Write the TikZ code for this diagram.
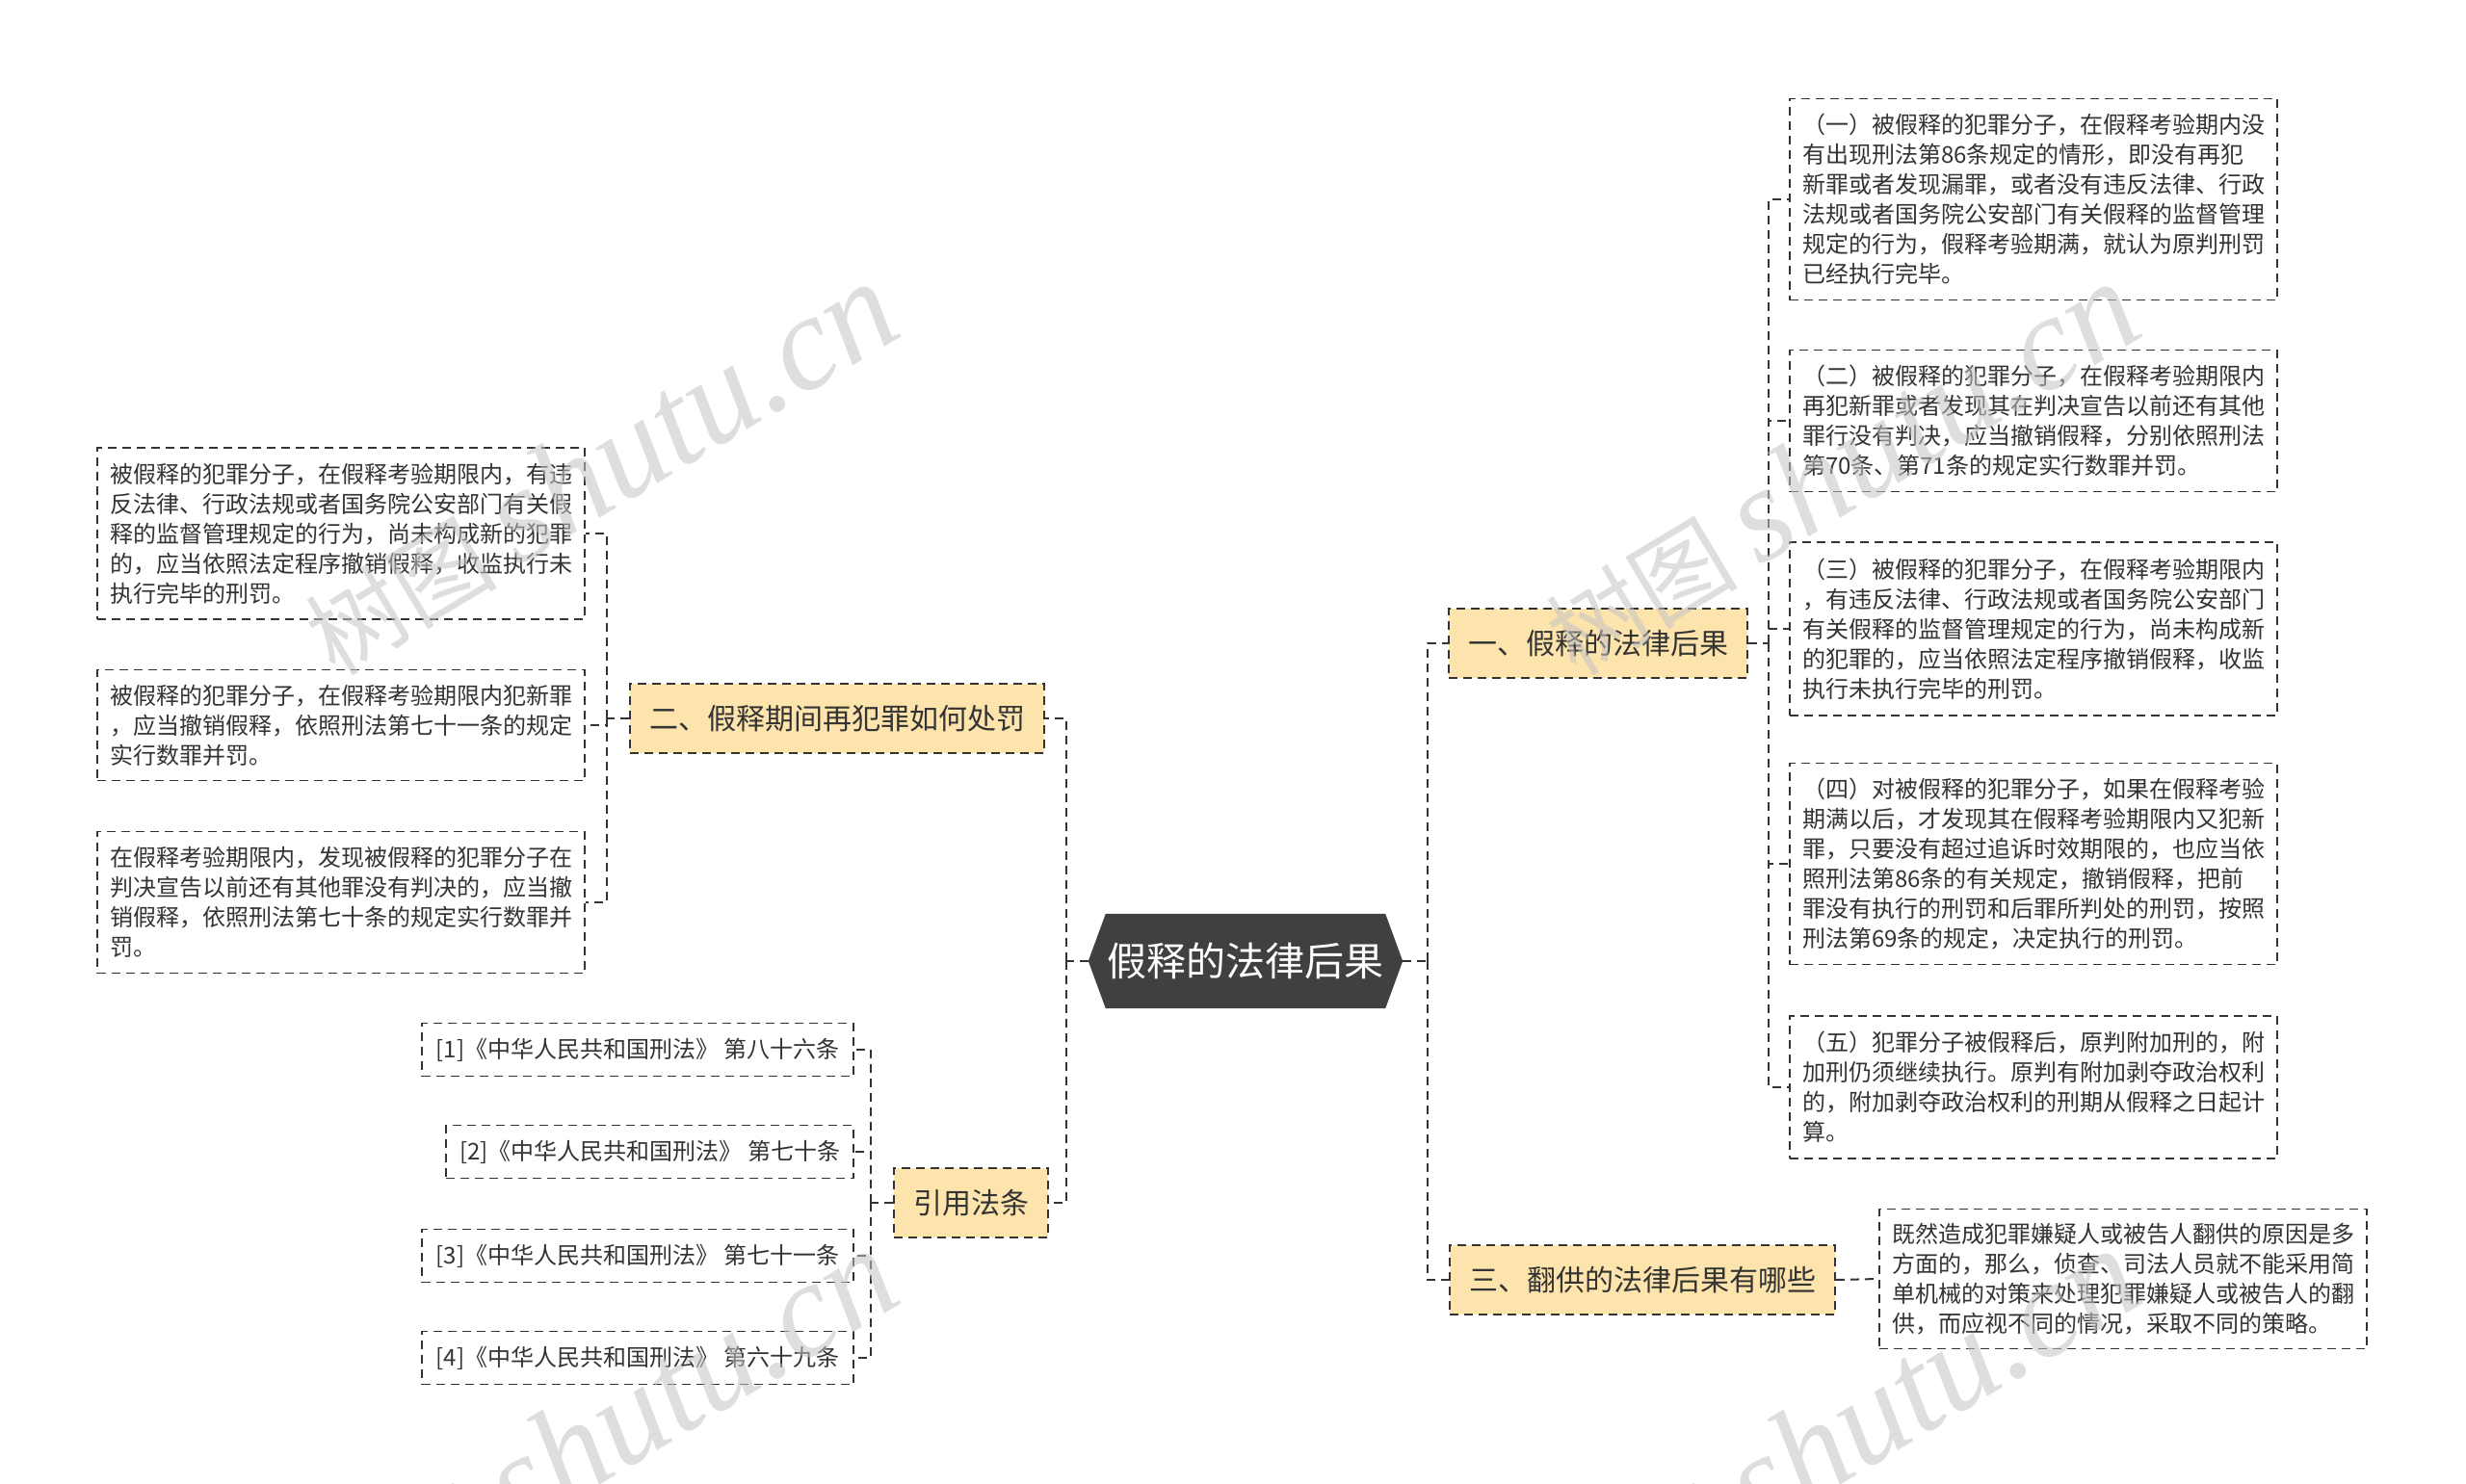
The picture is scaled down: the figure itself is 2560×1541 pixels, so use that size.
\documentclass[tikz,border=0pt]{standalone}
\usepackage{fontspec}
\setmainfont{Noto Sans CJK SC}
\newfontfamily\wmlatin{Liberation Serif}
\usetikzlibrary{positioning}
\pgfdeclarelayer{background}
\pgfsetlayers{background,main}

\definecolor{linegray}{HTML}{333333}
\definecolor{rootgray}{HTML}{404040}
\definecolor{branchfill}{HTML}{FCE4AC}
\definecolor{wmgray}{HTML}{C4C4C4}

\tikzset{
  link/.style={draw=linegray, line width=2pt, dash pattern=on 9pt off 6pt},
  box/.style={draw=linegray, line width=1.6pt, dash pattern=on 9pt off 6pt, text=linegray},
  leaf/.style={box, fill=white, align=left, text width=480pt, inner xsep=13pt,
    font=\fontsize{24}{31}\selectfont},
  refbox/.style={box, fill=white, minimum height=55pt, inner xsep=12pt,
    font=\fontsize{24}{31}\selectfont},
  branch/.style={box, fill=branchfill, minimum height=72pt, inner xsep=20pt,
    font=\fontsize{30}{36}\selectfont},
  rootbox/.style={minimum width=326pt, minimum height=98pt, text=white,
    font=\fontsize{41}{48}\selectfont},
  watermark/.style={text=wmgray, text opacity=0.55, rotate=31, anchor=base west},
}
\newcommand{\wmtext}{\fontsize{100}{100}\selectfont 树图 {\wmlatin\itshape\fontsize{140}{140}\selectfont shutu.cn}}

\begin{document}
\begin{tikzpicture}[x=1pt,y=-1pt]
  \useasboundingbox (0,0) rectangle (2560,1541);
  \begin{pgfonlayer}{background}
    \fill[white] (0,0) rectangle (2560,1541);
  \end{pgfonlayer}

  % centre
  \node[rootbox] (root) at (1293,998) {假释的法律后果};
  \begin{pgfonlayer}{background}
    \fill[rootgray] (root.west) -- ([xshift=18pt]root.north west)
      -- ([xshift=-18pt]root.north east) -- (root.east)
      -- ([xshift=-18pt]root.south east) -- ([xshift=18pt]root.south west) -- cycle;
  \end{pgfonlayer}

  % branches
  \node[branch] (a1) at (1659,668) {一、假释的法律后果};
  \node[branch] (a3) at (1705,1329) {三、翻供的法律后果有哪些};
  \node[branch] (b2) at (869,746) {二、假释期间再犯罪如何处罚};
  \node[branch] (b4) at (1008,1249) {引用法条};

  % right side
  \node[leaf, minimum height=209pt] (r1) at (2111,207) {（一）被假释的犯罪分子，在假释考验期内没\\有出现刑法第86条规定的情形，即没有再犯\\新罪或者发现漏罪，或者没有违反法律、行政\\法规或者国务院公安部门有关假释的监督管理\\规定的行为，假释考验期满，就认为原判刑罚\\已经执行完毕。};
  \node[leaf, minimum height=147pt] (r2) at (2111,437) {（二）被假释的犯罪分子，在假释考验期限内\\再犯新罪或者发现其在判决宣告以前还有其他\\罪行没有判决，应当撤销假释，分别依照刑法\\第70条、第71条的规定实行数罪并罚。};
  \node[leaf, minimum height=180pt] (r3) at (2111,653) {（三）被假释的犯罪分子，在假释考验期限内\\，有违反法律、行政法规或者国务院公安部门\\有关假释的监督管理规定的行为，尚未构成新\\的犯罪的，应当依照法定程序撤销假释，收监\\执行未执行完毕的刑罚。};
  \node[leaf, minimum height=209pt] (r4) at (2111,897) {（四）对被假释的犯罪分子，如果在假释考验\\期满以后，才发现其在假释考验期限内又犯新\\罪，只要没有超过追诉时效期限的，也应当依\\照刑法第86条的有关规定，撤销假释，把前\\罪没有执行的刑罚和后罪所判处的刑罚，按照\\刑法第69条的规定，决定执行的刑罚。};
  \node[leaf, minimum height=148pt] (r5) at (2111,1129) {（五）犯罪分子被假释后，原判附加刑的，附\\加刑仍须继续执行。原判有附加剥夺政治权利\\的，附加剥夺政治权利的刑期从假释之日起计\\算。};
  \node[leaf, minimum height=145pt] (r6) at (2204,1328) {既然造成犯罪嫌疑人或被告人翻供的原因是多\\方面的，那么，侦查、司法人员就不能采用简\\单机械的对策来处理犯罪嫌疑人或被告人的翻\\供，而应视不同的情况，采取不同的策略。};

  % left side
  \node[leaf, minimum height=178pt] (l1) at (354,554) {被假释的犯罪分子，在假释考验期限内，有违\\反法律、行政法规或者国务院公安部门有关假\\释的监督管理规定的行为，尚未构成新的犯罪\\的，应当依照法定程序撤销假释，收监执行未\\执行完毕的刑罚。};
  \node[leaf, minimum height=115pt] (l2) at (354,753) {被假释的犯罪分子，在假释考验期限内犯新罪\\，应当撤销假释，依照刑法第七十一条的规定\\实行数罪并罚。};
  \node[leaf, minimum height=147pt] (l3) at (354,937) {在假释考验期限内，发现被假释的犯罪分子在\\判决宣告以前还有其他罪没有判决的，应当撤\\销假释，依照刑法第七十条的规定实行数罪并\\罚。};

  \node[refbox, minimum width=448pt, anchor=east] (f1) at (887,1090) {[1]《中华人民共和国刑法》 第八十六条};
  \node[refbox, minimum width=423pt, anchor=east] (f2) at (887,1196) {[2]《中华人民共和国刑法》 第七十条};
  \node[refbox, minimum width=448pt, anchor=east] (f3) at (887,1304) {[3]《中华人民共和国刑法》 第七十一条};
  \node[refbox, minimum width=448pt, anchor=east] (f4) at (887,1410) {[4]《中华人民共和国刑法》 第六十九条};

  % connectors
  \coordinate (rj) at ([xshift=26pt]root.east);
  \coordinate (lj) at ([xshift=-23pt]root.west);
  \coordinate (aj) at ([xshift=21pt]a1.east);
  \coordinate (bj) at ([xshift=-23pt]b2.west);
  \coordinate (fj) at ([xshift=-23pt]b4.west);
  \draw[link] (root.east) -- (rj);
  \draw[link] (root.west) -- (lj);
  \foreach \n in {a1,a3} \draw[link] (rj) |- (\n.west);
  \foreach \n in {b2,b4} \draw[link] (lj) |- (\n.east);
  \draw[link] (a1.east) -- (aj);
  \foreach \n in {r1,r2,r3,r4,r5} \draw[link] (aj) |- (\n.west);
  \draw[link] (a3.east) -- (r6.west);
  \draw[link] (b2.west) -- (bj);
  \foreach \n in {l1,l2,l3} \draw[link] (bj) |- (\n.east);
  \draw[link] (b4.west) -- (fj);
  \foreach \n in {f1,f2,f3,f4} \draw[link] (fj) |- (\n.east);

  % watermarks
  \node[watermark] (wm1) at (345,705) {\wmtext};
  \node[watermark] (wm2) at (1633,705) {\wmtext};
  \node[watermark] (wm3) at (345,1709) {\wmtext};
  \node[watermark] (wm4) at (1633,1709) {\wmtext};
\end{tikzpicture}
\end{document}
